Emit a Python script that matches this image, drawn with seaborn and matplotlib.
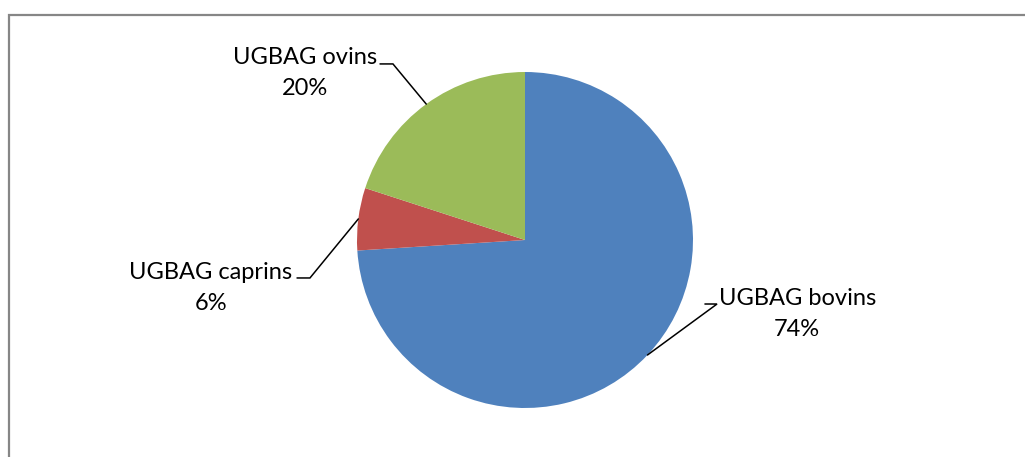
import numpy as np
import matplotlib.pyplot as plt
import seaborn as sns
from matplotlib.patches import Rectangle

# Data
labels = ["UGBAG bovins", "UGBAG caprins", "UGBAG ovins"]
shares = [74, 6, 20]
colors = ["#4F81BD", "#C0504D", "#9BBB59"]

# label layout (pie radius units, centre of pie = 0,0)
label_pos = [(1.62, -0.44), (-1.87, -0.285), (-1.31, 0.995)]
elbow = [(1.143, -0.381), (-1.280, -0.226), (-0.786, 1.048)]
line_start = [(1.071, -0.381), (-1.357, -0.226), (-0.863, 1.048)]

sns.set_theme(style="white")
plt.rcParams['font.family'] = ['Lato', 'DejaVu Sans']

W, H = 1025, 457
fig = plt.figure(figsize=(W / 100, H / 100), dpi=100)
fig.patch.set_facecolor("white")

# outer chart frame (cut off at right and bottom like the reference)
fig.patches.append(Rectangle((8.5 / W, -0.2), 1.2, (H - 14.5) / H + 0.2,
                             transform=fig.transFigure, fill=False,
                             edgecolor="#868686", linewidth=1.6))

cx, cy, r = 525, 240, 168
ax = fig.add_axes([(cx - r) / W, (H - cy - r) / H, 2 * r / W, 2 * r / H])
wedges, _ = ax.pie(shares, colors=colors, startangle=90, counterclock=False,
                   radius=1.0, wedgeprops=dict(linewidth=0))
ax.set_xlim(-1, 1)
ax.set_ylim(-1, 1)
ax.set_aspect("equal")
ax.axis("off")

for w, lab, val, pos, el, st in zip(wedges, labels, shares, label_pos, elbow, line_start):
    mid = np.deg2rad((w.theta1 + w.theta2) / 2)
    ex, ey = np.cos(mid), np.sin(mid)
    ax.plot([st[0], el[0], ex], [st[1], el[1], ey], color="black",
            linewidth=1.1, clip_on=False, solid_joinstyle="miter")
    ax.text(pos[0], pos[1], f"{lab}\n{val}%", ha="center", va="center",
            fontsize=17, linespacing=1.55, color="black", clip_on=False)

fig.savefig("out.png", dpi=100)
